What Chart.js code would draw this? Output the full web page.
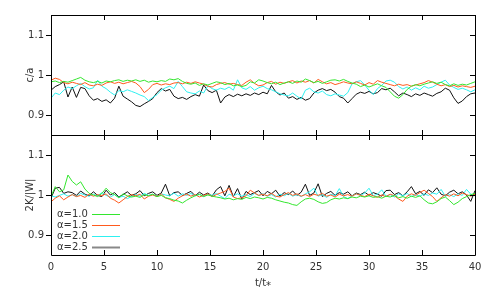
<!DOCTYPE html>
<html>
<head>
<meta charset="utf-8">
<script src="https://cdn.jsdelivr.net/npm/chart.js@4"></script>
<style>
  html, body { margin: 0; padding: 0; background: #fff; }
  #wrap { width: 500px; height: 300px; }
</style>
</head>
<body>
<div id="wrap"><canvas id="graph" width="500" height="300"></canvas></div>
<script>
// Two stacked panels: c/a (top) and virial ratio 2K/|W| (bottom) vs t/t*

const dt = 0.4; // sampling step in t/t*
const yTickValues = [0.9, 1.0, 1.1];
const labels = ['α=1.0', 'α=1.5', 'α=2.0', 'α=2.5'];

// c/a, top panel
const caAlpha10 = [
    0.983, 0.985, 0.981, 0.984, 0.982, 0.986, 0.990, 0.994, 0.987, 0.983,
    0.981, 0.984, 0.980, 0.985, 0.983, 0.986, 0.988, 0.984, 0.987, 0.985,
    0.988, 0.984, 0.987, 0.982, 0.985, 0.983, 0.986, 0.984, 0.990, 0.988,
    0.991, 0.984, 0.979, 0.977, 0.980, 0.974, 0.978, 0.975, 0.979, 0.983,
    0.981, 0.976, 0.979, 0.973, 0.975, 0.971, 0.974, 0.983, 0.980, 0.988,
    0.985, 0.981, 0.978, 0.982, 0.976, 0.980, 0.983, 0.979, 0.985, 0.982,
    0.990, 0.986, 0.981, 0.984, 0.979, 0.983, 0.987, 0.988, 0.985, 0.989,
    0.984, 0.980, 0.977, 0.971, 0.975, 0.970, 0.974, 0.978, 0.973, 0.969,
    0.958, 0.947, 0.942, 0.951, 0.964, 0.972, 0.976, 0.973, 0.977, 0.980,
    0.983, 0.979, 0.982, 0.976, 0.973, 0.978, 0.974, 0.977, 0.975, 0.979,
    0.983
];
const caAlpha15 = [
    0.987, 0.992, 0.989, 0.981, 0.978, 0.982, 0.979, 0.976, 0.981, 0.975,
    0.973, 0.977, 0.974, 0.980, 0.983, 0.979, 0.982, 0.978, 0.981, 0.984,
    0.980, 0.971, 0.956, 0.964, 0.976, 0.979, 0.975, 0.978, 0.976, 0.980,
    0.981, 0.978, 0.982, 0.979, 0.983, 0.980, 0.977, 0.972, 0.970, 0.976,
    0.979, 0.981, 0.977, 0.979, 0.976, 0.974, 0.982, 0.988, 0.979, 0.973,
    0.975, 0.981, 0.984, 0.977, 0.982, 0.979, 0.983, 0.986, 0.980, 0.985,
    0.982, 0.986, 0.980, 0.989, 0.983, 0.978, 0.981, 0.976, 0.979, 0.983,
    0.980, 0.978, 0.983, 0.979, 0.975, 0.981, 0.977, 0.986, 0.982, 0.979,
    0.976, 0.973, 0.977, 0.974, 0.976, 0.972, 0.975, 0.978, 0.981, 0.986,
    0.982, 0.977, 0.973, 0.976, 0.971, 0.974, 0.970, 0.973, 0.971, 0.969,
    0.972
];
const caAlpha20 = [
    0.942, 0.955, 0.951, 0.962, 0.970, 0.966, 0.973, 0.979, 0.971, 0.965,
    0.968, 0.987, 0.972, 0.966, 0.957, 0.950, 0.961, 0.958, 0.963, 0.959,
    0.955, 0.950, 0.946, 0.936, 0.944, 0.951, 0.962, 0.968, 0.972, 0.966,
    0.984, 0.971, 0.958, 0.955, 0.953, 0.960, 0.955, 0.973, 0.966, 0.962,
    0.967, 0.964, 0.970, 0.962, 0.988, 0.968, 0.964, 0.971, 0.962, 0.968,
    0.972, 0.966, 0.963, 0.958, 0.953, 0.950, 0.948, 0.955, 0.947, 0.940,
    0.962, 0.967, 0.958, 0.955, 0.960, 0.951, 0.948, 0.953, 0.950, 0.947,
    0.956, 0.978, 0.983, 0.986, 0.975, 0.962, 0.951, 0.966, 0.974, 0.985,
    0.987, 0.982, 0.971, 0.965, 0.970, 0.962, 0.968, 0.963, 0.972, 0.967,
    0.970, 0.976, 0.982, 0.987, 0.975, 0.969, 0.964, 0.967, 0.963, 0.958,
    0.963
];
const caAlpha25 = [
    0.962, 0.971, 0.976, 0.983, 0.945, 0.970, 0.944, 0.969, 0.966, 0.948,
    0.937, 0.941, 0.934, 0.938, 0.930, 0.942, 0.972, 0.947, 0.940, 0.933,
    0.924, 0.921, 0.928, 0.934, 0.941, 0.956, 0.966, 0.960, 0.964, 0.947,
    0.941, 0.944, 0.939, 0.946, 0.951, 0.947, 0.975, 0.961, 0.956, 0.962,
    0.930, 0.945, 0.951, 0.946, 0.952, 0.948, 0.953, 0.949, 0.955, 0.951,
    0.957, 0.953, 0.974, 0.958, 0.950, 0.955, 0.942, 0.946, 0.939, 0.944,
    0.937, 0.941, 0.955, 0.962, 0.966, 0.961, 0.964, 0.957, 0.946, 0.942,
    0.930, 0.941, 0.952, 0.957, 0.954, 0.959, 0.953, 0.956, 0.966, 0.963,
    0.967, 0.958, 0.948, 0.955, 0.951, 0.946, 0.953, 0.949, 0.955, 0.951,
    0.947, 0.954, 0.958, 0.967, 0.962, 0.943, 0.929, 0.935, 0.946, 0.953,
    0.955
];

// 2K/|W|, bottom panel
const kwAlpha10 = [
    0.996, 1.021, 1.008, 1.013, 1.050, 1.034, 1.025, 1.033, 1.015, 1.004,
    1.000, 0.996, 1.004, 1.017, 1.006, 1.001, 0.993, 1.003, 0.998, 0.995,
    0.997, 0.994, 1.001, 0.998, 1.002, 0.996, 0.999, 0.993, 0.991, 0.987,
    0.985, 0.980, 0.987, 0.993, 0.998, 1.002, 0.996, 1.000, 0.997, 0.995,
    0.993, 0.990, 0.992, 0.988, 0.991, 0.989, 0.994, 0.991, 0.995, 0.993,
    0.990, 0.994, 0.992, 0.988, 0.985, 0.982, 0.980, 0.976, 0.974, 0.983,
    0.990, 0.992, 0.989, 0.983, 0.979, 0.981, 0.988, 0.992, 0.990, 0.993,
    0.991, 0.995, 0.993, 0.997, 0.995, 0.998, 0.994, 0.996, 0.992, 0.997,
    0.995, 0.999, 0.993, 0.996, 0.992, 0.997, 0.994, 0.998, 0.988, 0.980,
    0.978, 0.983, 0.991, 0.995, 0.986, 0.976, 0.982, 0.991, 0.996, 1.001,
    1.004
];
const kwAlpha15 = [
    0.983, 0.992, 0.998, 0.988, 0.995, 1.001, 0.996, 0.999, 0.994, 1.002,
    0.997, 1.001, 0.998, 1.003, 0.992, 0.987, 0.980, 0.988, 0.996, 1.001,
    0.998, 1.002, 0.990, 0.997, 1.000, 0.996, 1.003, 0.993, 0.989, 0.984,
    0.992, 0.998, 1.002, 0.997, 1.001, 0.995, 0.999, 1.003, 0.996, 1.001,
    1.005, 1.009, 1.017, 0.995, 0.991, 0.993, 0.998, 1.012, 1.005, 0.999,
    1.002, 0.998, 1.004, 0.997, 0.995, 1.001, 1.006, 0.999, 1.003, 0.997,
    1.001, 0.996, 1.002, 0.999, 1.004, 0.997, 1.000, 0.995, 1.002, 0.998,
    1.001, 0.997, 1.003, 0.999, 0.996, 1.002, 0.998, 0.994, 1.000, 0.996,
    1.002, 0.998, 0.990, 0.984, 0.997, 1.003, 0.999, 1.006, 1.012, 1.004,
    0.996, 0.984, 0.993, 1.001, 0.997, 1.003, 0.998, 1.005, 1.001, 0.997,
    1.002
];
const kwAlpha20 = [
    0.998, 0.995, 0.999, 1.003, 0.997, 1.001, 0.996, 1.004, 1.000, 0.997,
    1.002, 0.998, 1.006, 0.999, 0.995, 1.001, 0.994, 0.997, 0.991, 0.996,
    1.001, 0.997, 1.004, 0.999, 1.002, 0.996, 1.003, 1.000, 0.998, 1.005,
    0.997, 1.003, 0.999, 1.004, 0.998, 1.001, 0.996, 1.002, 0.999, 1.004,
    0.997, 0.991, 1.002, 0.998, 1.003, 0.997, 1.001, 0.996, 1.004, 0.999,
    1.003, 0.997, 1.001, 0.995, 1.002, 0.998, 1.004, 0.997, 1.001, 0.996,
    1.003, 1.008, 1.017, 0.997, 1.001, 0.994, 1.002, 0.998, 1.016, 0.996,
    0.991, 0.998, 1.003, 0.999, 1.005, 1.017, 0.998, 1.002, 1.013, 0.997,
    1.001, 0.995, 1.003, 0.998, 1.004, 0.996, 1.001, 0.997, 1.003, 0.999,
    1.005, 1.002, 1.014, 0.997, 1.001, 0.996, 1.003, 0.999, 1.014, 1.002,
    0.998
];
const kwAlpha25 = [
    0.992, 1.017, 1.019, 1.004, 1.008, 1.006, 0.999, 1.010, 1.002, 0.998,
    1.008, 0.999, 0.996, 1.012, 1.000, 1.006, 0.995, 1.001, 1.008, 0.999,
    1.003, 1.011, 0.998, 1.004, 1.008, 0.999, 1.005, 1.027, 0.998, 1.006,
    1.008, 0.999, 1.004, 1.009, 0.998, 1.007, 1.000, 1.005, 0.997, 1.013,
    1.021, 0.998, 1.024, 0.996, 1.016, 0.990, 1.009, 1.001, 1.006, 1.011,
    0.998, 1.009, 1.003, 1.012, 0.997, 1.006, 1.001, 1.010, 0.999, 1.007,
    1.027, 0.999, 1.005, 1.028, 0.996, 1.004, 1.009, 0.999, 1.006, 1.002,
    1.008, 0.998, 1.005, 1.001, 1.007, 0.999, 1.006, 1.002, 0.997, 1.011,
    1.012, 1.001, 1.006, 0.998, 1.008, 1.021, 1.003, 1.009, 0.999, 1.013,
    1.006, 1.018, 1.002, 0.998, 1.007, 1.012, 1.003, 1.008, 1.000, 0.984,
    1.011
];

const caSeries = [caAlpha10, caAlpha15, caAlpha20, caAlpha25];
const kwSeries = [kwAlpha10, kwAlpha15, kwAlpha20, kwAlpha25];
const colors = ['#33e62e', '#ff5a1e', '#2ef0f0', '#111111'];

const times = caAlpha10.map((_, i) => Math.round(i * dt * 10) / 10);
const toPoints = (vals) => vals.map((v, i) => ({ x: times[i], y: v }));

const datasets = [];
labels.forEach((lab, k) => {
    datasets.push({ label: lab, data: toPoints(caSeries[k]), yAxisID: 'yTop',
        borderColor: colors[k], borderWidth: 1, pointRadius: 0, tension: 0 });
});
labels.forEach((lab, k) => {
    datasets.push({ label: lab, data: toPoints(kwSeries[k]), yAxisID: 'yBot',
        borderColor: colors[k], borderWidth: 1, pointRadius: 0, tension: 0 });
});

Chart.defaults.font.family = "'DejaVu Sans', sans-serif";
Chart.defaults.font.size = 10;
Chart.defaults.color = '#333';

// frame + gnuplot-like tick marks for each panel
const framePlugin = {
    id: 'frames',
    afterDatasetsDraw(chart) {
        const ctx = chart.ctx;
        const x = chart.scales.x;
        ctx.save();
        ctx.strokeStyle = '#000';
        ctx.lineWidth = 1;
        ['yTop', 'yBot'].forEach((id) => {
            const y = chart.scales[id];
            ctx.beginPath();
            ctx.rect(x.left + 0.5, y.top + 0.5, x.right - x.left, y.bottom - y.top);
            x.ticks.forEach((t) => {
                const px = Math.round(x.getPixelForValue(t.value)) + 0.5;
                ctx.moveTo(px, y.top); ctx.lineTo(px, y.top + 5);
                ctx.moveTo(px, y.bottom); ctx.lineTo(px, y.bottom - 5);
            });
            yTickValues.forEach((v) => {
                const py = Math.round(y.getPixelForValue(v)) + 0.5;
                ctx.moveTo(x.left - 5, py); ctx.lineTo(x.left, py);
                ctx.moveTo(x.right, py); ctx.lineTo(x.right - 5, py);
            });
            ctx.stroke();
        });
        ctx.restore();
    }
};

// key drawn inside the lower panel
const keyPlugin = {
    id: 'key',
    afterDraw(chart) {
        const ctx = chart.ctx;
        const x = chart.scales.x;
        const y = chart.scales.yBot;
        ctx.save();
        ctx.font = "10px 'DejaVu Sans', sans-serif";
        ctx.textBaseline = 'middle';
        ctx.fillStyle = '#333';
        chart.data.datasets.filter((d) => d.yAxisID === 'yBot').forEach((d, k) => {
            const py = y.top + 79 + k * 11;
            ctx.fillText(d.label, x.left + 6, py);
            ctx.beginPath();
            ctx.strokeStyle = k === 3 ? '#888' : d.borderColor;
            ctx.lineWidth = k === 3 ? 2 : 1;
            ctx.moveTo(x.left + 41, py + 0.5);
            ctx.lineTo(x.left + 69, py + 0.5);
            ctx.stroke();
        });
        ctx.restore();
    }
};

const yAxis = (title) => ({
    type: 'linear',
    position: 'left',
    stack: 'panels',
    stackWeight: 1,
    min: 0.85,
    max: 1.15,
    afterBuildTicks: (s) => { s.ticks = yTickValues.map((v) => ({ value: v })); },
    afterFit: (s) => { s.width = 51; },
    ticks: { padding: 7, callback: (v) => String(+v.toFixed(2)) },
    grid: { display: false, drawTicks: false },
    border: { display: false },
    title: { display: true, text: title, padding: { top: 24, bottom: 4 } }
});

new Chart(document.getElementById('graph').getContext('2d'), {
    type: 'line',
    data: { datasets },
    options: {
        responsive: false,
        animation: false,
        layout: { padding: { top: 15, right: 25, left: 0, bottom: 0 } },
        plugins: { legend: { display: false }, tooltip: { enabled: false } },
        scales: {
            x: {
                type: 'linear',
                min: 0,
                max: 40,
                afterFit: (s) => { s.height = 45; },
                ticks: { stepSize: 5, padding: 6 },
                grid: { display: false, drawTicks: false },
                border: { display: false },
                title: { display: true, text: 't/t⁎', padding: { top: 4, bottom: 11 } }
            },
            // stacked scales are placed bottom-up in declaration order
            yBot: yAxis('2K/|W|'),
            yTop: yAxis('c/a')
        }
    },
    plugins: [framePlugin, keyPlugin]
});
</script>
</body>
</html>
